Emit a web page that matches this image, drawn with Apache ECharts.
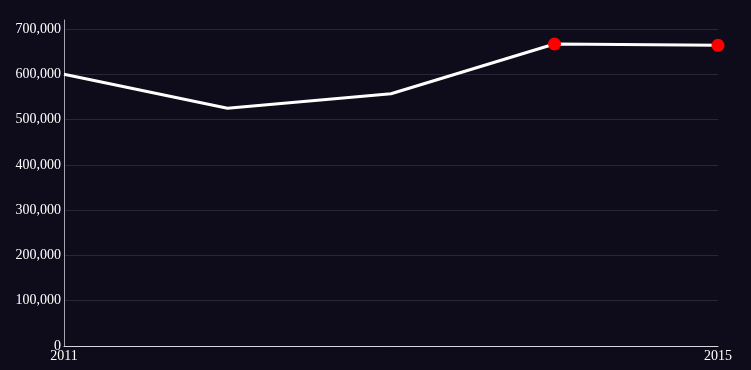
<!DOCTYPE html>
<html><head><meta charset="utf-8">
<style>html,body{margin:0;padding:0;background:#0e0b1a;}#c{width:751px;height:370px;}</style>
<script src="https://cdn.jsdelivr.net/npm/echarts@6/dist/echarts.min.js"></script>
</head><body><div id="c"></div>
<script>
const years = ['2011','2012','2013','2014','2015'];
const values = [600000, 525000, 557000, 667000, 664000];
const highlighted = [false, false, false, true, true];

const chart = echarts.init(document.getElementById('c'));
const font = 'Liberation Serif';
chart.setOption({
  backgroundColor: '#0e0b1a',
  animation: false,
  grid: {left: 64, right: 33, top: 20, bottom: 24, containLabel: false},
  xAxis: {
    type: 'category', data: years, boundaryGap: false,
    axisLine: {lineStyle: {color: '#d8d4e0', width: 1}},
    axisTick: {show: false},
    axisLabel: {color: '#ffffff', fontFamily: font, fontSize: 14, margin: 3,
      interval: function(i){ return i === 0 || i === years.length - 1; }},
    splitLine: {show: false}
  },
  yAxis: {
    type: 'value', min: 0, max: 720000, interval: 100000,
    axisLine: {show: true, lineStyle: {color: '#a8a4b0', width: 1}},
    axisTick: {show: false},
    axisLabel: {color: '#ffffff', fontFamily: font, fontSize: 14, margin: 3,
      formatter: v => v.toLocaleString('en-US'),
      showMaxLabel: false},
    splitLine: {showMaxLine: false, lineStyle: {color: '#2a2638', width: 1}}
  },
  series: [{
    type: 'line',
    data: values.map((v, i) => ({
      value: v,
      symbol: highlighted[i] ? 'circle' : 'none',
      symbolSize: 13,
      itemStyle: {color: '#ff0000'}
    })),
    showAllSymbol: true,
    lineStyle: {color: '#ffffff', width: 3},
    itemStyle: {color: '#ff0000'}
  }]
});
</script></body></html>
